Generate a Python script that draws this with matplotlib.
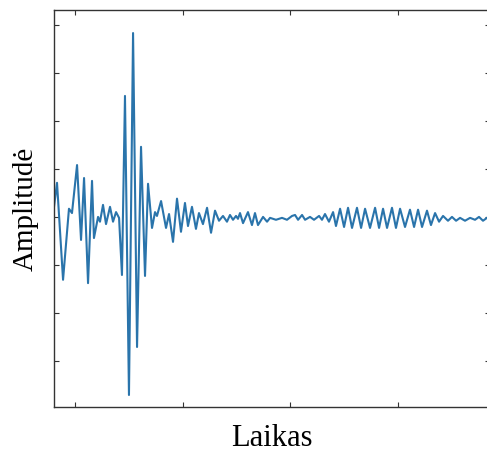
import matplotlib
matplotlib.use('Agg')
import matplotlib.pyplot as plt

# time (ms) and amplitude of the signal's turning points
time = [80.5, 83.3, 88.9, 94.4, 97.2, 101.9, 105.6, 108.4, 112.1, 115.8,
        117.6, 121.4, 123.2, 126.0, 128.8, 132.5, 135.3, 138.1, 140.9, 143.6,
        146.4, 150.1, 153.9, 157.6, 161.3, 165.0, 167.8, 171.5, 174.3, 176.1,
        179.9, 184.5, 187.3, 191.0, 194.7, 198.4, 202.1, 204.9, 208.6, 212.3,
        215.1, 218.8, 222.6, 226.3, 230.0, 233.7, 237.4, 241.1, 243.9, 246.7,
        249.5, 251.3, 253.2, 256.0, 260.6, 264.3, 267.1, 269.9, 274.6, 278.3,
        281.1, 286.6, 292.2, 296.8, 301.5, 304.3, 307.1, 310.8, 313.6, 318.2,
        321.9, 326.6, 329.3, 332.1, 335.8, 339.6, 342.3, 346.1, 349.8, 353.5,
        357.2, 361.8, 365.6, 369.3, 373.9, 378.6, 382.3, 386.0, 389.7, 394.3,
        398.0, 401.8, 406.4, 411.0, 414.8, 418.5, 422.2, 426.8, 430.5, 434.3,
        438.0, 441.7, 446.3, 450.0, 453.8, 457.5, 462.1, 466.8, 471.4, 475.1,
        478.8, 482.5]
amplitude = [0.21, 0.71, -1.31, 0.17, 0.08, 1.08, -0.48, 0.81, -1.38, 0.75,
             -0.44, 0.0, -0.10, 0.25, -0.15, 0.21, -0.10, 0.10, -0.02, -1.21,
             2.52, -3.71, 3.83, -2.71, 1.46, -1.23, 0.69, -0.23, 0.10, 0.02,
             0.33, -0.23, 0.06, -0.52, 0.38, -0.31, 0.29, -0.19, 0.21, -0.25,
             0.08, -0.15, 0.19, -0.33, 0.13, -0.08, 0.02, -0.10, 0.04, -0.06,
             0.02, -0.04, 0.08, -0.13, 0.10, -0.17, 0.08, -0.17, 0.0, -0.10,
             -0.02, -0.06, -0.02, -0.06, 0.02, 0.04, -0.06, 0.04, -0.06, 0.0,
             -0.06, 0.02, -0.06, 0.06, -0.10, 0.10, -0.19, 0.17, -0.21, 0.19,
             -0.23, 0.19, -0.23, 0.17, -0.23, 0.19, -0.23, 0.17, -0.23, 0.19,
             -0.23, 0.17, -0.21, 0.15, -0.21, 0.15, -0.21, 0.13, -0.17, 0.08,
             -0.10, 0.02, -0.08, 0.0, -0.08, -0.02, -0.08, -0.02, -0.06, 0.0,
             -0.08, -0.02]

x_ticks = [100, 200, 300, 400]
y_ticks = [-3, -2, -1, 0, 1, 2, 3, 4]

plt.rcParams['font.family'] = ['Liberation Serif', 'DejaVu Serif']

fig = plt.figure(figsize=(4.87, 4.54), dpi=100)
ax = fig.add_axes([54 / 487, 47 / 454, 436 / 487, 397 / 454])

ax.plot(time, amplitude, color='#2a74ab', linewidth=1.5,
        solid_joinstyle='round')

ax.set_xlim(80.5, 485.3)
ax.set_ylim(-3.96, 4.31)
ax.set_xticks(x_ticks)
ax.set_yticks(y_ticks)
ax.tick_params(direction='in', length=3.5, width=0.8, color='#333333',
               top=True, right=True, labelbottom=False, labelleft=False)
for s in ax.spines.values():
    s.set_color('#333333')
    s.set_linewidth(1.0)

ax.set_xlabel('Laikas', fontsize=22, labelpad=12)
ax.set_ylabel('Amplitudė', fontsize=21, labelpad=11)

fig.savefig('out.png', dpi=100)
